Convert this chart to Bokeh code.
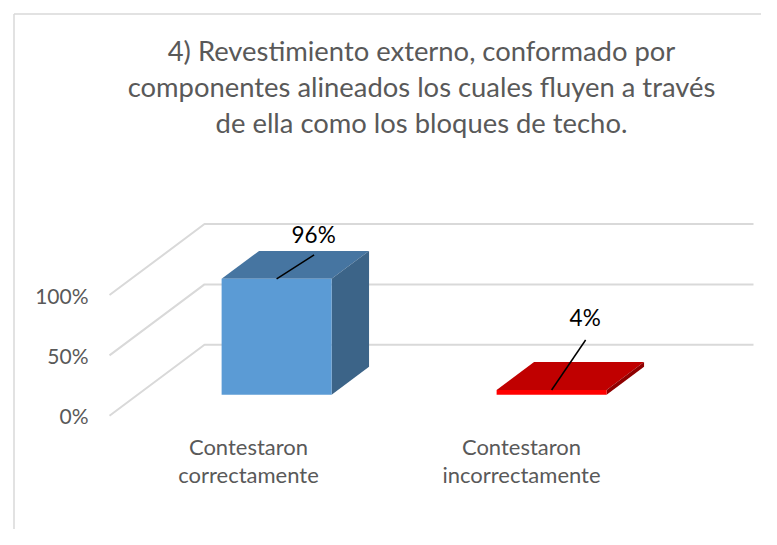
from bokeh.plotting import figure
from bokeh.models import Range1d, LinearAxis, FixedTicker
from bokeh.core.properties import value
from bokeh.embed import file_html
from bokeh.resources import INLINE

title_text = "4) Revestimiento externo, conformado por\ncomponentes alineados los cuales fluyen a través\nde ella como los bloques de techo."
categories = ["Contestaron\ncorrectamente", "Contestaron\nincorrectamente"]
values = [96, 4]
labels = ["96%", "4%"]
ticks = [0, 50, 100]
front_colors = ["#5b9bd5", "#ff0000"]
top_colors = ["#4675a1", "#c00000"]
side_colors = ["#3c6488", "#8f0000"]

W, H = 761, 529
FONT = "Lato"
GREY = "#595959"
GRID = "#d9d9d9"

# scale: pixels per data unit
PX_CAT = 275.0
PX_VAL = 1.2075
ORIGIN_X = 248      # px of category 0 at depth 0
ORIGIN_Y = 415.3    # px from top of value 0 at depth 0
DEPTH_DX = 95 / PX_CAT
DEPTH_DY = 71 / PX_VAL
BAR_HALF = 55 / PX_CAT
D0, D1 = 0.296, 0.69


def px(dx):
    return dx / PX_CAT


def pv(dy):
    return dy / PX_VAL


def proj(x, v, d):
    return x + d * DEPTH_DX, v + d * DEPTH_DY


p = figure(width=W, height=H, output_backend="svg", toolbar_location=None,
           x_range=Range1d(-ORIGIN_X / PX_CAT, (W - ORIGIN_X) / PX_CAT),
           y_range=Range1d(-(H - ORIGIN_Y) / PX_VAL, ORIGIN_Y / PX_VAL),
           min_border=0, min_border_left=0, min_border_right=0,
           min_border_top=0, min_border_bottom=0,
           x_axis_type=None, y_axis_type=None, title=None)
p.outline_line_color = None
p.grid.visible = False
p.background_fill_color = "white"

# chart frame
x_left = px(13.5 - ORIGIN_X)
y_top = pv(ORIGIN_Y - 13.5)
p.line([x_left, x_left], [-(H - ORIGIN_Y) / PX_VAL, y_top], line_color=GRID, line_width=1.5)
p.line([x_left, (W - ORIGIN_X) / PX_CAT], [y_top, y_top], line_color=GRID, line_width=1.5)

# walls: gridlines
x_wall = px(109 - ORIGIN_X)
x_end = px(753 - ORIGIN_X)
for t in ticks:
    xa, ya = proj(x_wall, t, 0)
    xb, yb = proj(x_wall, t, 1)
    p.line([xa, xb, x_end], [ya, yb, yb], line_color=GRID, line_width=2)

# value axis
yaxis = LinearAxis(fixed_location=x_wall - px(14), ticker=FixedTicker(ticks=ticks),
                   major_label_overrides={t: f"{t}%" for t in ticks})
yaxis.axis_line_color = None
yaxis.major_tick_line_color = None
yaxis.minor_tick_line_color = None
yaxis.major_label_standoff = 1
yaxis.major_label_text_color = GREY
yaxis.major_label_text_font = FONT
yaxis.major_label_text_font_size = "21px"
p.add_layout(yaxis, "left")

# 3-D bars
for i, v in enumerate(values):
    xl, xr = i - BAR_HALF, i + BAR_HALF
    a = proj(xl, 0, D0); b = proj(xr, 0, D0); c = proj(xr, v, D0); d = proj(xl, v, D0)
    e = proj(xl, v, D1); f = proj(xr, v, D1); g = proj(xr, 0, D1)
    p.patch([d[0], c[0], f[0], e[0]], [d[1], c[1], f[1], e[1]], fill_color=top_colors[i], line_color=None)
    p.patch([b[0], g[0], f[0], c[0]], [b[1], g[1], f[1], c[1]], fill_color=side_colors[i], line_color=None)
    p.patch([a[0], b[0], c[0], d[0]], [a[1], b[1], c[1], d[1]], fill_color=front_colors[i], line_color=None)

# leader lines and data labels
lead = [(37.5, 24), (34, 50)]
label_gap = [(37, 44), (33.5, 72)]
for i, v in enumerate(values):
    x0, y0 = proj(i, v, D0)
    p.line([x0, x0 + px(lead[i][0])], [y0, y0 + pv(lead[i][1])], line_color="black", line_width=1.5)
    p.text([x0 + px(label_gap[i][0])], [y0 + pv(label_gap[i][1])], text=[labels[i]],
           text_font=value(FONT), text_font_size="22.5px", text_color="black",
           text_align="center", text_baseline="middle")

# category labels
p.text([i - i * px(2) for i in range(len(categories))], [pv(ORIGIN_Y - 460)] * len(categories), text=categories,
       text_font=value(FONT), text_font_size="22px", text_color=GREY,
       text_align="center", text_baseline="middle", text_line_height=1.07)

# title
p.text([px(421 - ORIGIN_X)], [pv(ORIGIN_Y - 86)], text=[title_text],
       text_font=value(FONT), text_font_size="27.4px", text_color=GREY,
       text_align="center", text_baseline="middle", text_line_height=1.1)

open("out.html", "w").write(file_html(p, INLINE))
